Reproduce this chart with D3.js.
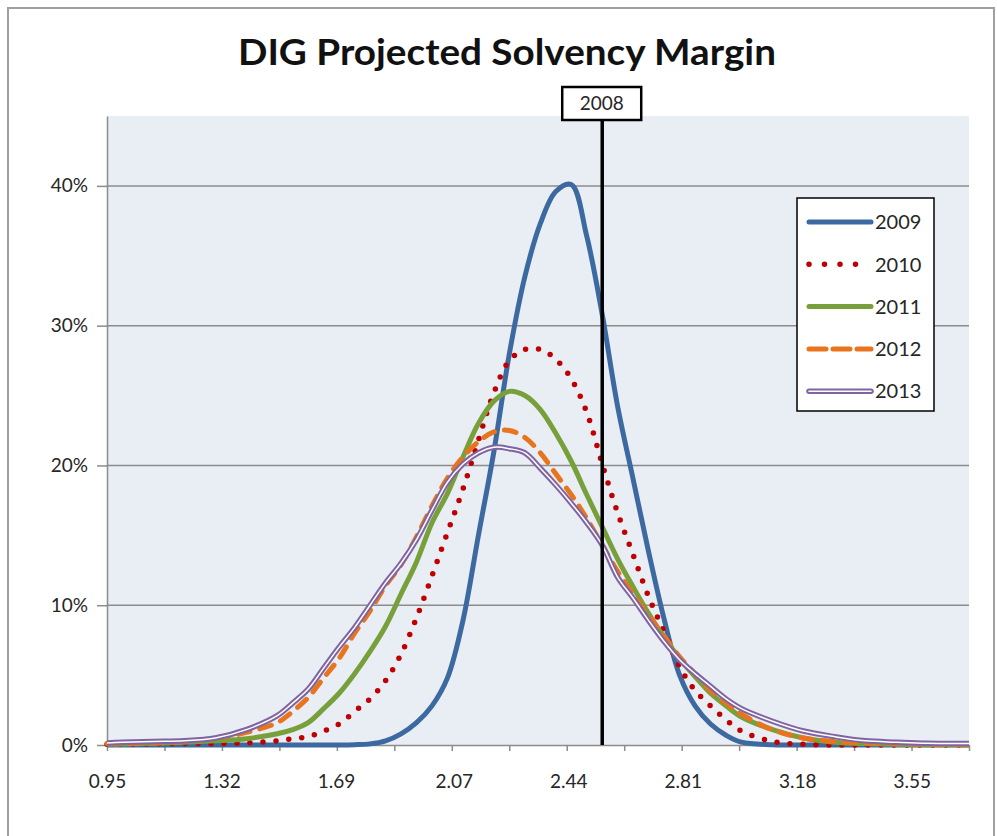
<!doctype html>
<html lang="en">
  <head>
    <meta charset="UTF-8" />
    <title>DIG Projected Solvency Margin</title>
    <style>
      body {
        margin: 0;
        background: #fff;
        overflow: hidden;
      }
      svg {
        display: block;
        font-family: Lato, "Open Sans", sans-serif;
      }
      .axis text {
        font-size: 19px;
        fill: #262626;
      }
    </style>
  </head>
  <body>
    <script src="https://d3js.org/d3.v7.min.js"></script>
    <script>
      // Solvency margin values (x) and probability (%) for each projected year
      const xValues = [
        0.95, 1.0, 1.1, 1.2, 1.3, 1.4, 1.5, 1.55, 1.6, 1.65, 1.7, 1.75, 1.8,
        1.85, 1.9, 1.95, 2.0, 2.05, 2.1, 2.15, 2.2, 2.25, 2.3, 2.35, 2.4, 2.45,
        2.5, 2.55, 2.6, 2.65, 2.7, 2.75, 2.8, 2.85, 2.9, 2.95, 3.0, 3.1, 3.2,
        3.3, 3.4, 3.5, 3.6, 3.735,
      ];
      const values2009 = [
        0, 0, 0, 0, 0, 0, 0, 0, 0, 0, 0, 0.02, 0.08, 0.3, 0.8, 1.6, 2.8, 4.8,
        8.9, 15.0, 21.0, 28.0, 33.5, 37.3, 39.6, 40.1, 36.4, 30.8, 24.2, 19.0,
        13.8, 9.0, 5.0, 2.8, 1.5, 0.7, 0.2, 0.02, 0, 0, 0, 0, 0, 0,
      ];
      const values2010 = [
        0.05, 0.05, 0.08, 0.1, 0.1, 0.15, 0.3, 0.45, 0.6, 1.0, 1.5, 2.4, 3.3,
        4.6, 6.5, 9.1, 12.1, 15.2, 18.3, 21.8, 25.2, 27.5, 28.3, 28.3, 27.6,
        26.2, 23.8, 20.1, 16.6, 13.6, 10.6, 8.1, 5.6, 3.9, 2.8, 1.8, 1.0, 0.25,
        0.05, 0, 0, 0, 0, 0,
      ];
      const values2011 = [
        0.05, 0.08, 0.12, 0.2, 0.3, 0.45, 0.8, 1.1, 1.6, 2.6, 3.7, 5.1, 6.7,
        8.5, 10.8, 13.1, 15.9, 18.0, 20.6, 23.0, 24.6, 25.3, 25.0, 24.0, 22.3,
        20.3, 17.9, 15.6, 13.3, 11.3, 9.4, 7.7, 6.2, 4.9, 3.7, 2.8, 2.0, 1.1,
        0.5, 0.2, 0.1, 0.05, 0.02, 0,
      ];
      const values2012 = [
        0.1, 0.1, 0.15, 0.25, 0.5, 0.9, 1.6, 2.4, 3.4, 4.8, 6.2, 8.0, 9.6,
        11.4, 12.9, 14.9, 17.1, 19.1, 20.6, 21.7, 22.4, 22.5, 22.0, 20.9, 19.4,
        17.9, 16.2, 14.3, 12.4, 10.8, 9.2, 7.8, 6.3, 5.1, 3.9, 3.0, 2.2, 1.1,
        0.5, 0.25, 0.15, 0.1, 0.05, 0.03,
      ];
      const values2013 = [
        0.15, 0.2, 0.25, 0.3, 0.5, 1.1, 2.1, 3.0, 4.0, 5.5, 7.0, 8.4, 10.0,
        11.6, 13.0, 14.7, 16.8, 18.8, 20.1, 20.9, 21.3, 21.2, 20.9, 19.8, 18.6,
        17.3, 15.9, 14.3, 12.0, 10.5, 8.9, 7.4, 6.1, 5.1, 4.2, 3.3, 2.6, 1.7,
        1.0, 0.6, 0.3, 0.2, 0.12, 0.1,
      ];
      const seriesNames = ["2009", "2010", "2011", "2012", "2013"];
      const seriesValues = [values2009, values2010, values2011, values2012, values2013];
      const xTickLabels = [0.95, 1.32, 1.69, 2.07, 2.44, 2.81, 3.18, 3.55];
      const yTickValues = [0, 10, 20, 30, 40];
      const markerLabel = "2008";
      const markerValue = 2.55;

      const width = 997;
      const height = 836;
      const plot = { left: 107, right: 969, top: 116, bottom: 745 };

      const styles = {
        2009: { color: "#3c6aa0", width: 5 },
        2010: { color: "#c00000", width: 5.5, dash: "0 13", cap: "round" },
        2011: { color: "#77a03b", width: 5 },
        2012: { color: "#e8741d", width: 5, dash: "12 10", cap: "round" },
        2013: { color: "#8064a2", width: 5.5, inner: "#ffffff" },
      };

      const svg = d3
        .select("body")
        .append("svg")
        .attr("width", width)
        .attr("height", height);

      // outer chart frame
      svg
        .append("rect")
        .attr("x", 8)
        .attr("y", 8)
        .attr("width", 986)
        .attr("height", 840)
        .attr("fill", "#fff")
        .attr("stroke", "#a0a0a0")
        .attr("stroke-width", 2);

      const x = d3
        .scaleLinear()
        .domain([0.95, 3.735])
        .range([plot.left, plot.right]);
      const y = d3
        .scaleLinear()
        .domain([0, 45])
        .range([plot.bottom, plot.top]);

      svg
        .append("rect")
        .attr("x", plot.left)
        .attr("y", plot.top)
        .attr("width", plot.right - plot.left)
        .attr("height", plot.bottom - plot.top)
        .attr("fill", "#e9edf4");

      // gridlines
      svg
        .append("g")
        .selectAll("line")
        .data(yTickValues.slice(1))
        .join("line")
        .attr("x1", plot.left)
        .attr("x2", plot.right)
        .attr("y1", (d) => y(d))
        .attr("y2", (d) => y(d))
        .attr("stroke", "#8c8c8c")
        .attr("stroke-width", 1.5);

      // y axis
      const yAxis = svg
        .append("g")
        .attr("class", "axis")
        .attr("transform", `translate(${plot.left},0)`)
        .call(
          d3
            .axisLeft(y)
            .tickValues(yTickValues)
            .tickSizeInner(10)
            .tickSizeOuter(0)
            .tickPadding(9)
            .tickFormat((d) => d + "%"),
        );
      yAxis.select(".domain").attr("stroke", "#8c8c8c").attr("stroke-width", 1.5);
      yAxis.selectAll(".tick line").attr("stroke", "#8c8c8c").attr("stroke-width", 1.5);
      yAxis.selectAll("text").attr("font-family", "Lato, sans-serif");

      // x axis: minor ticks between labels, then the labels
      const minorTicks = d3.range(16).map((i) => x.invert(plot.left + (i * (plot.right - plot.left)) / 15));
      const xMinor = svg
        .append("g")
        .attr("transform", `translate(0,${plot.bottom})`)
        .call(d3.axisBottom(x).tickValues(minorTicks).tickSizeInner(6).tickSizeOuter(0).tickFormat(""));
      xMinor.select(".domain").attr("stroke", "#8c8c8c").attr("stroke-width", 1.5);
      xMinor.selectAll(".tick line").attr("stroke", "#8c8c8c").attr("stroke-width", 1.5);

      const xLabels = svg
        .append("g")
        .attr("class", "axis")
        .attr("transform", `translate(0,${plot.bottom})`)
        .call(
          d3
            .axisBottom(x)
            .tickValues(xTickLabels)
            .tickSize(0)
            .tickPadding(30)
            .tickFormat(d3.format(".2f")),
        );
      xLabels.select(".domain").remove();
      xLabels.selectAll("text").attr("font-family", "Lato, sans-serif");

      // series lines (smoothed like the spreadsheet lines)
      const line = d3
        .line()
        .x((d) => x(d[0]))
        .y((d) => Math.min(y(d[1]), plot.bottom))
        .curve(d3.curveCatmullRom.alpha(0.5));

      const series = seriesNames.map((name, i) => ({
        name,
        points: xValues.map((v, j) => [v, seriesValues[i][j]]),
      }));

      const lines = svg.append("g").attr("fill", "none");
      series.forEach((s) => {
        const st = styles[s.name];
        lines
          .append("path")
          .attr("d", line(s.points))
          .attr("stroke", st.color)
          .attr("stroke-width", st.width)
          .attr("stroke-dasharray", st.dash || null)
          .attr("stroke-linecap", st.cap || "butt")
          .attr("stroke-linejoin", "round");
        if (st.inner) {
          lines
            .append("path")
            .attr("d", line(s.points))
            .attr("stroke", st.inner)
            .attr("stroke-width", 1.5);
        }
      });

      // 2008 marker line with label box
      svg
        .append("line")
        .attr("x1", x(markerValue))
        .attr("x2", x(markerValue))
        .attr("y1", 120)
        .attr("y2", plot.bottom)
        .attr("stroke", "#000")
        .attr("stroke-width", 3.5);
      svg
        .append("rect")
        .attr("x", x(markerValue) - 40)
        .attr("y", 87)
        .attr("width", 79)
        .attr("height", 33)
        .attr("fill", "#fff")
        .attr("stroke", "#000")
        .attr("stroke-width", 2.5);
      svg
        .append("text")
        .attr("x", x(markerValue) - 0.5)
        .attr("y", 110)
        .attr("text-anchor", "middle")
        .attr("font-size", 19)
        .attr("fill", "#262626")
        .text(markerLabel);

      // legend
      const legend = svg.append("g").attr("transform", "translate(797,198)");
      legend
        .append("rect")
        .attr("width", 137)
        .attr("height", 213)
        .attr("fill", "#fff")
        .attr("stroke", "#000")
        .attr("stroke-width", 1.5);
      const item = legend
        .selectAll("g")
        .data(series)
        .join("g")
        .attr("transform", (d, i) => `translate(0,${24 + i * 42.3})`);
      item.each(function (d) {
        const st = styles[d.name];
        const g = d3.select(this);
        g.append("line")
          .attr("x1", 12)
          .attr("x2", 74)
          .attr("stroke", st.color)
          .attr("stroke-width", st.width)
          .attr("stroke-dasharray", st.dash ? (d.name === "2010" ? "0 15.5" : "17 7") : null)
          .attr("stroke-linecap", "round");
        if (st.inner) {
          g.append("line")
            .attr("x1", 12)
            .attr("x2", 74)
            .attr("stroke", st.inner)
            .attr("stroke-width", 1.5)
            .attr("stroke-linecap", "round");
        }
      });
      item
        .append("text")
        .attr("x", 78)
        .attr("dy", "0.36em")
        .attr("font-size", 20)
        .attr("fill", "#262626")
        .text((d) => d.name);

      // title
      svg
        .append("text")
        .attr("x", 507)
        .attr("y", 65)
        .attr("text-anchor", "middle")
        .attr("font-size", 36)
        .attr("font-weight", "bold")
        .attr("fill", "#111")
        .attr("textLength", 538)
        .attr("lengthAdjust", "spacingAndGlyphs")
        .text("DIG Projected Solvency Margin");
    </script>
  </body>
</html>
